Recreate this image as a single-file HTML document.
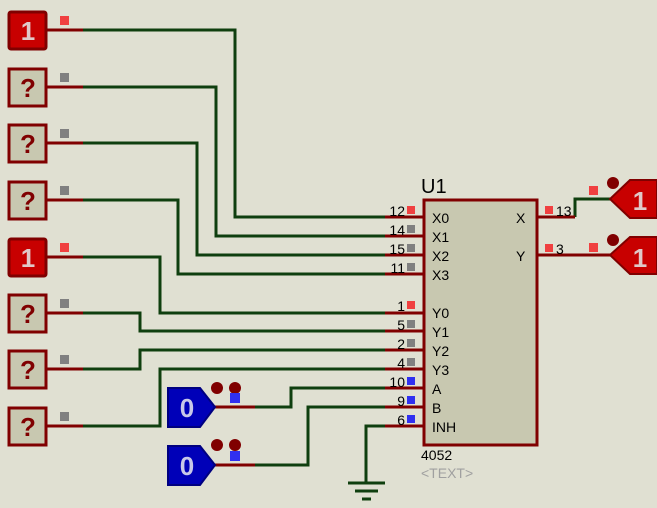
<!DOCTYPE html>
<html><head><style>
html,body{margin:0;padding:0;background:#e0e0d2;}
svg{display:block;font-family:"Liberation Sans",sans-serif;}
</style></head><body>
<svg width="657" height="508" viewBox="0 0 657 508" xmlns="http://www.w3.org/2000/svg">
<rect width="657" height="508" fill="#e0e0d2"/>
<g fill="none" stroke="#0f3f0f" stroke-width="3">
<polyline points="83,30 235,30 235,217 385,217"/>
<polyline points="83,87 216,87 216,236 385,236"/>
<polyline points="83,143 197,143 197,255 385,255"/>
<polyline points="83,200 178,200 178,274 385,274"/>
<polyline points="83,257 160,257 160,313 385,313"/>
<polyline points="83,313 140,313 140,331 385,331"/>
<polyline points="83,369 140,369 140,350 385,350"/>
<polyline points="83,426 160,426 160,369 385,369"/>
<polyline points="255,407 291,407 291,388 385,388"/>
<polyline points="255,465 308,465 308,407 385,407"/>
<polyline points="385,426 366,426 366,483"/>
<polyline points="575,217 575,199 610,199"/>
</g>
<g stroke="#0f3f0f" stroke-width="3">
<line x1="348" y1="483" x2="385" y2="483"/>
<line x1="355" y1="491" x2="378" y2="491"/>
<line x1="362" y1="499" x2="371" y2="499"/>
</g>
<g stroke="#800000" stroke-width="3">
<line x1="47" y1="30" x2="83" y2="30"/><line x1="47" y1="87" x2="83" y2="87"/>
<line x1="47" y1="143" x2="83" y2="143"/><line x1="47" y1="200" x2="83" y2="200"/>
<line x1="47" y1="257" x2="83" y2="257"/><line x1="47" y1="313" x2="83" y2="313"/>
<line x1="47" y1="369" x2="83" y2="369"/><line x1="47" y1="426" x2="83" y2="426"/>
<line x1="215" y1="407" x2="255" y2="407"/><line x1="215" y1="465" x2="255" y2="465"/>
<line x1="385" y1="217" x2="425" y2="217"/><line x1="385" y1="236" x2="425" y2="236"/>
<line x1="385" y1="255" x2="425" y2="255"/><line x1="385" y1="274" x2="425" y2="274"/>
<line x1="385" y1="313" x2="425" y2="313"/><line x1="385" y1="331" x2="425" y2="331"/>
<line x1="385" y1="350" x2="425" y2="350"/><line x1="385" y1="369" x2="425" y2="369"/>
<line x1="385" y1="388" x2="425" y2="388"/><line x1="385" y1="407" x2="425" y2="407"/>
<line x1="385" y1="426" x2="425" y2="426"/>
<line x1="537" y1="217" x2="575" y2="217"/><line x1="537" y1="255" x2="612" y2="255"/>
</g>
<!-- input boxes -->
<g stroke="#800000" stroke-width="3">
<rect x="9" y="12" width="37" height="37" fill="#c80000" rx="2"/>
<rect x="9" y="69" width="37" height="37" fill="#c8c8b0"/>
<rect x="9" y="125" width="37" height="37" fill="#c8c8b0"/>
<rect x="9" y="182" width="37" height="37" fill="#c8c8b0"/>
<rect x="9" y="239" width="37" height="37" fill="#c80000" rx="2"/>
<rect x="9" y="295" width="37" height="37" fill="#c8c8b0"/>
<rect x="9" y="351" width="37" height="37" fill="#c8c8b0"/>
<rect x="9" y="408" width="37" height="37" fill="#c8c8b0"/>
</g>
<g font-size="26" font-weight="bold" text-anchor="middle">
<text x="28" y="40" fill="#e0c8c8">1</text>
<text x="28" y="97" fill="#800000">?</text>
<text x="28" y="153" fill="#800000">?</text>
<text x="28" y="210" fill="#800000">?</text>
<text x="28" y="267" fill="#e0c8c8">1</text>
<text x="28" y="323" fill="#800000">?</text>
<text x="28" y="379" fill="#800000">?</text>
<text x="28" y="436" fill="#800000">?</text>
</g>
<g>
<rect x="60" y="16" width="9" height="9" fill="#f04040"/>
<rect x="60" y="73" width="9" height="9" fill="#808080"/>
<rect x="60" y="129" width="9" height="9" fill="#808080"/>
<rect x="60" y="186" width="9" height="9" fill="#808080"/>
<rect x="60" y="243" width="9" height="9" fill="#f04040"/>
<rect x="60" y="299" width="9" height="9" fill="#808080"/>
<rect x="60" y="355" width="9" height="9" fill="#808080"/>
<rect x="60" y="412" width="9" height="9" fill="#808080"/>
</g>
<!-- chip -->
<rect x="424" y="200" width="113" height="245" fill="#c8c8b0" stroke="#800000" stroke-width="3"/>
<text x="421" y="193" font-size="20" fill="#000">U1</text>
<text x="421" y="460" font-size="14" fill="#000">4052</text>
<text x="421" y="478" font-size="14" fill="#a0a0a0">&lt;TEXT&gt;</text>
<g font-size="14" fill="#000">
<text x="432" y="223">X0</text><text x="432" y="242">X1</text><text x="432" y="261">X2</text><text x="432" y="280">X3</text>
<text x="432" y="318">Y0</text><text x="432" y="337">Y1</text><text x="432" y="356">Y2</text><text x="432" y="375">Y3</text>
<text x="432" y="394">A</text><text x="432" y="413">B</text><text x="432" y="432">INH</text>
<text x="516" y="223">X</text><text x="516" y="261">Y</text>
</g>
<g font-size="14" fill="#000" text-anchor="end">
<text x="405" y="216">12</text><text x="405" y="235">14</text><text x="405" y="254">15</text><text x="405" y="273">11</text>
<text x="405" y="311">1</text><text x="405" y="330">5</text><text x="405" y="349">2</text><text x="405" y="368">4</text>
<text x="405" y="387">10</text><text x="405" y="406">9</text><text x="405" y="425">6</text>
</g>
<g>
<rect x="407" y="206" width="8" height="8" fill="#f04040"/>
<rect x="407" y="225" width="8" height="8" fill="#808080"/>
<rect x="407" y="244" width="8" height="8" fill="#808080"/>
<rect x="407" y="263" width="8" height="8" fill="#808080"/>
<rect x="407" y="301" width="8" height="8" fill="#f04040"/>
<rect x="407" y="320" width="8" height="8" fill="#808080"/>
<rect x="407" y="339" width="8" height="8" fill="#808080"/>
<rect x="407" y="358" width="8" height="8" fill="#808080"/>
<rect x="407" y="377" width="8" height="8" fill="#3030f0"/>
<rect x="407" y="396" width="8" height="8" fill="#3030f0"/>
<rect x="407" y="415" width="8" height="8" fill="#3030f0"/>
<rect x="545" y="206" width="8" height="8" fill="#f04040"/>
<rect x="545" y="244" width="8" height="8" fill="#f04040"/>
</g>
<text x="556" y="216" font-size="14">13</text>
<text x="556" y="254" font-size="14">3</text>
<!-- outputs -->
<g>
<polygon points="610,199 630,180 657,180 657,218 630,218" fill="#c80000" stroke="#800000" stroke-width="2"/>
<polygon points="610,255 630,237 657,237 657,274 630,274" fill="#c80000" stroke="#800000" stroke-width="2"/>
<text x="640" y="210" font-size="26" font-weight="bold" fill="#e0c8c8" text-anchor="middle">1</text>
<text x="640" y="267" font-size="26" font-weight="bold" fill="#e0c8c8" text-anchor="middle">1</text>
<rect x="589" y="186" width="9" height="9" fill="#f04040"/>
<rect x="589" y="243" width="9" height="9" fill="#f04040"/>
<circle cx="613" cy="183" r="6" fill="#800000"/>
<circle cx="613" cy="240" r="6" fill="#800000"/>
</g>
<!-- logic state 0 -->
<g>
<polygon points="168,388 200,388 215,407 200,427 168,427" fill="#0000b8" stroke="#000080" stroke-width="2"/>
<polygon points="168,446 200,446 215,465 200,485 168,485" fill="#0000b8" stroke="#000080" stroke-width="2"/>
<text x="187" y="417" font-size="26" font-weight="bold" fill="#c8c8e8" text-anchor="middle">0</text>
<text x="187" y="475" font-size="26" font-weight="bold" fill="#c8c8e8" text-anchor="middle">0</text>
<circle cx="217" cy="388" r="6" fill="#800000"/><circle cx="235" cy="388" r="6" fill="#800000"/>
<circle cx="217" cy="445" r="6" fill="#800000"/><circle cx="235" cy="445" r="6" fill="#800000"/>
<rect x="230" y="393" width="10" height="10" fill="#3030f0"/>
<rect x="230" y="451" width="10" height="10" fill="#3030f0"/>
</g>
</svg>
</body></html>
